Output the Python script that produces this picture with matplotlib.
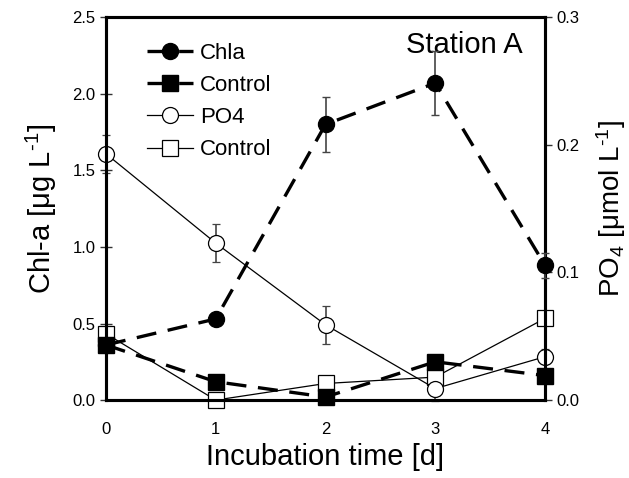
import matplotlib.pyplot as plt

plt.rcParams['font.family'] = ['Liberation Sans', 'DejaVu Sans']
plt.rcParams['mathtext.fontset'] = 'custom'
plt.rcParams['mathtext.rm'] = 'Liberation Sans'
plt.rcParams['mathtext.it'] = 'Liberation Sans'

# 培养时间 (d)
days = [0, 1, 2, 3, 4]

# Chl-a (左轴)
chla = [0.36, 0.53, 1.80, 2.07, 0.88]
chla_err = [0.0, 0.04, 0.18, 0.21, 0.08]
chla_ctrl = [0.36, 0.12, 0.02, 0.25, 0.16]

# PO4 (右轴)
po4 = [0.193, 0.123, 0.059, 0.009, 0.034]
po4_err = [0.015, 0.015, 0.015, 0.010, 0.006]
po4_ctrl = [0.052, 0.0, 0.013, 0.018, 0.064]

fig = plt.figure(figsize=(6.29, 4.78), dpi=100)
ax = fig.add_axes([0.1685, 0.163, 0.698, 0.801])
ax2 = ax.twinx()

dash = (0, (6, 3.5))
h1 = ax.errorbar(days, chla, yerr=chla_err, color='black', ls=dash, lw=2.4,
                 marker='o', ms=11.5, ecolor='#444444', elinewidth=1.2, capsize=3,
                 clip_on=False, zorder=5)
h2, = ax.plot(days, chla_ctrl, color='black', ls=dash, lw=2.4, marker='s', ms=11.5,
              clip_on=False, zorder=5)

h3 = ax2.errorbar(days, po4, yerr=po4_err, color='black', lw=0.9, marker='o', ms=11.5,
                  mfc='white', mec='black', mew=0.9, ecolor='#444444',
                  elinewidth=1.2, capsize=3, clip_on=False)
h4, = ax2.plot(days, po4_ctrl, color='black', lw=0.9, marker='s', ms=11.5,
               mfc='white', mec='black', mew=0.9, clip_on=False)

ax.set_xlim(0, 4)
ax.set_ylim(0, 2.5)
ax2.set_ylim(0, 0.3)
ax.set_xticks(days)
ax.set_yticks([0, 0.5, 1.0, 1.5, 2.0, 2.5])
ax.set_yticklabels(['0.0', '0.5', '1.0', '1.5', '2.0', '2.5'])
ax2.set_yticks([0, 0.1, 0.2, 0.3])
ax2.set_yticklabels(['0.0', '0.1', '0.2', '0.3'])

for a in (ax, ax2):
    for s in a.spines.values():
        s.set_linewidth(2.2)
    a.tick_params(labelsize=12, length=5, width=1, direction='out', colors='#333333',
                  labelcolor='black')
ax.tick_params(axis='y', direction='inout', length=8)
ax.tick_params(axis='x', pad=16, length=0)

ax.set_xlabel('Incubation time [d]', fontsize=21, labelpad=4)
ax.set_ylabel('Chl-a [μg L$^{\\text{-}1}$]', fontsize=21, labelpad=10)
ax2.set_ylabel('PO$_4$ [μmol L$^{\\text{-}1}$]', fontsize=20, labelpad=10)

ax.text(0.948, 0.965, 'Station A', transform=ax.transAxes, ha='right', va='top',
        fontsize=21)

# 图例只显示线和标记，不显示误差棒
leg = ax.legend([h1[0], h2, h3[0], h4], ['Chla', 'Control', 'PO4', 'Control'],
                loc='upper left', bbox_to_anchor=(0.047, 0.985), frameon=False,
                fontsize=16, handlelength=2.1, labelspacing=0.5, handletextpad=0.3)
ax.set_zorder(ax2.get_zorder() + 1)
ax.patch.set_visible(False)

fig.savefig('out.png', dpi=100)
